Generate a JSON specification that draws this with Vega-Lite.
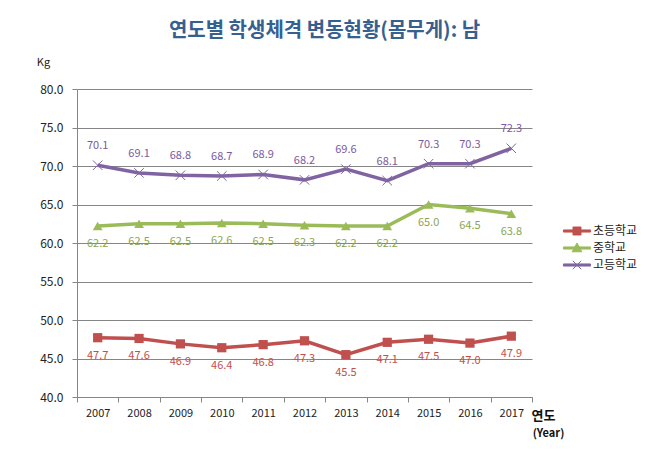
{
  "$schema": "https://vega.github.io/schema/vega-lite/v6.json",
  "width": 455,
  "height": 308,
  "autosize": {"type": "none"},
  "padding": {"left": 77, "top": 89, "right": 123, "bottom": 65},
  "background": "white",
  "title": {
    "text": "연도별 학생체격 변동현황(몸무게): 남",
    "font": "Noto Sans CJK KR",
    "fontSize": 20,
    "fontWeight": "bold",
    "color": "#35608F",
    "anchor": "middle",
    "frame": "group",
    "dx": 20,
    "offset": 15
  },
  "config": {"view": {"stroke": null}, "font": "Noto Sans CJK KR"},
  "data": {
    "values": [
      {"year": "2007", "school": "초등학교", "kg": 47.7},
      {"year": "2008", "school": "초등학교", "kg": 47.6},
      {"year": "2009", "school": "초등학교", "kg": 46.9},
      {"year": "2010", "school": "초등학교", "kg": 46.4},
      {"year": "2011", "school": "초등학교", "kg": 46.8},
      {"year": "2012", "school": "초등학교", "kg": 47.3},
      {"year": "2013", "school": "초등학교", "kg": 45.5},
      {"year": "2014", "school": "초등학교", "kg": 47.1},
      {"year": "2015", "school": "초등학교", "kg": 47.5},
      {"year": "2016", "school": "초등학교", "kg": 47.0},
      {"year": "2017", "school": "초등학교", "kg": 47.9},
      {"year": "2007", "school": "중학교", "kg": 62.2},
      {"year": "2008", "school": "중학교", "kg": 62.5},
      {"year": "2009", "school": "중학교", "kg": 62.5},
      {"year": "2010", "school": "중학교", "kg": 62.6},
      {"year": "2011", "school": "중학교", "kg": 62.5},
      {"year": "2012", "school": "중학교", "kg": 62.3},
      {"year": "2013", "school": "중학교", "kg": 62.2},
      {"year": "2014", "school": "중학교", "kg": 62.2},
      {"year": "2015", "school": "중학교", "kg": 65.0},
      {"year": "2016", "school": "중학교", "kg": 64.5},
      {"year": "2017", "school": "중학교", "kg": 63.8},
      {"year": "2007", "school": "고등학교", "kg": 70.1},
      {"year": "2008", "school": "고등학교", "kg": 69.1},
      {"year": "2009", "school": "고등학교", "kg": 68.8},
      {"year": "2010", "school": "고등학교", "kg": 68.7},
      {"year": "2011", "school": "고등학교", "kg": 68.9},
      {"year": "2012", "school": "고등학교", "kg": 68.2},
      {"year": "2013", "school": "고등학교", "kg": 69.6},
      {"year": "2014", "school": "고등학교", "kg": 68.1},
      {"year": "2015", "school": "고등학교", "kg": 70.3},
      {"year": "2016", "school": "고등학교", "kg": 70.3},
      {"year": "2017", "school": "고등학교", "kg": 72.3}
    ]
  },
  "encoding": {
    "y": {
      "field": "kg",
      "type": "quantitative",
      "scale": {"domain": [40, 80], "nice": false, "zero": false},
      "axis": {
        "values": [40, 45, 50, 55, 60, 65, 70, 75, 80],
        "format": ".1f",
        "title": "Kg",
        "titleAngle": 0,
        "titleX": -34,
        "titleY": -27,
        "titleAlign": "center",
        "titleBaseline": "middle",
        "titleFontWeight": "normal",
        "titleFontSize": 11,
        "titleColor": "#222222",
        "labelFontSize": 12,
        "labelColor": "#222222",
        "labelPadding": 9,
        "tickSize": 5,
        "tickColor": "#868686",
        "domainColor": "#868686",
        "grid": true,
        "gridColor": "#868686"
      }
    }
  },
  "resolve": {"axis": {"x": "independent"}},
  "layer": [
    {
      "mark": {"type": "line", "strokeWidth": 3.5},
      "encoding": {
        "x": {
          "field": "year",
          "type": "ordinal",
          "scale": {"type": "band", "paddingInner": 0, "paddingOuter": 0},
          "axis": {
            "orient": "bottom",
            "title": "연도",
            "titleX": 466,
            "titleY": 18,
            "titleAlign": "center",
            "titleBaseline": "middle",
            "titleFontSize": 13,
            "titleFontWeight": "bold",
            "titleColor": "#111111",
            "labelAngle": 0,
            "labelFontSize": 11,
            "labelColor": "#222222",
            "labelPadding": 5,
            "tickBand": "extent",
            "tickSize": 5,
            "tickColor": "#868686",
            "domainColor": "#868686",
            "grid": false
          }
        },
        "color": {
          "field": "school",
          "type": "nominal",
          "scale": {"domain": ["초등학교", "중학교", "고등학교"], "range": ["#C0504D", "#9BBB59", "#8064A2"]},
          "legend": {
            "title": null,
            "orient": "none",
            "legendX": 489,
            "legendY": 131,
            "symbolSize": 441,
            "rowPadding": 0,
            "labelOffset": 5,
            "labelFontSize": 12,
            "labelColor": "#222222",
            "encode": {
              "symbols": {
                "update": {
                  "shape": {"signal": "datum.value === '초등학교' ? 'M-1.29,-0.1H-0.38V-0.38H0.38V-0.1H1.29V0.1H0.38V0.38H-0.38V0.1H-1.29Z' : datum.value === '중학교' ? 'M-1.29,-0.1H1.29V0.1H-1.29Z M0,-0.48L0.46,0.36H-0.46Z' : 'M-1.29,-0.1H1.29V0.1H-1.29Z M-0.4,-0.4L0.4,0.4M-0.4,0.4L0.4,-0.4'"},
                  "fill": {"signal": "datum.value === '초등학교' ? '#C0504D' : datum.value === '중학교' ? '#9BBB59' : '#8064A2'"},
                  "stroke": {"signal": "datum.value === '초등학교' ? '#C0504D' : datum.value === '중학교' ? '#9BBB59' : '#8064A2'"},
                  "strokeWidth": {"value": 1},
                  "opacity": {"value": 1}
                }
              }
            }
          }
        }
      }
    },
    {
      "transform": [{"filter": "datum.school === '초등학교'"}],
      "mark": {"type": "point", "shape": "square", "filled": true, "size": 85, "opacity": 1, "color": "#C0504D"},
      "encoding": {
        "x": {
          "field": "year",
          "type": "ordinal",
          "scale": {"type": "band", "paddingInner": 0, "paddingOuter": 0},
          "axis": {
            "orient": "bottom",
            "title": "(Year)",
            "labels": false,
            "ticks": false,
            "domain": false,
            "grid": false,
            "titleX": 471,
            "titleY": 36,
            "titleAlign": "center",
            "titleBaseline": "middle",
            "titleFontSize": 11,
            "titleFontWeight": "bold",
            "titleColor": "#111111"
          }
        }
      }
    },
    {
      "transform": [{"filter": "datum.school === '중학교'"}],
      "mark": {"type": "point", "shape": "triangle-up", "filled": true, "size": 95, "opacity": 1, "color": "#9BBB59"},
      "encoding": {
        "x": {"field": "year", "type": "ordinal", "scale": {"type": "band", "paddingInner": 0, "paddingOuter": 0}, "axis": null}
      }
    },
    {
      "transform": [{"filter": "datum.school === '고등학교'"}],
      "mark": {"type": "point", "shape": "M-1,-1L1,1M-1,1L1,-1", "filled": false, "strokeWidth": 1, "size": 90, "opacity": 1, "color": "#8064A2"},
      "encoding": {
        "x": {"field": "year", "type": "ordinal", "scale": {"type": "band", "paddingInner": 0, "paddingOuter": 0}, "axis": null}
      }
    },
    {
      "transform": [{"filter": "datum.school === '고등학교'"}],
      "mark": {"type": "text", "dy": -19, "fontSize": 11, "color": "#7A5A9E"},
      "encoding": {
        "x": {"field": "year", "type": "ordinal", "scale": {"type": "band", "paddingInner": 0, "paddingOuter": 0}, "axis": null},
        "text": {"field": "kg", "type": "quantitative", "format": ".1f"}
      }
    },
    {
      "transform": [{"filter": "datum.school === '중학교'"}],
      "mark": {"type": "text", "dy": 18, "fontSize": 11, "color": "#8AA553"},
      "encoding": {
        "x": {"field": "year", "type": "ordinal", "scale": {"type": "band", "paddingInner": 0, "paddingOuter": 0}, "axis": null},
        "text": {"field": "kg", "type": "quantitative", "format": ".1f"}
      }
    },
    {
      "transform": [{"filter": "datum.school === '초등학교'"}],
      "mark": {"type": "text", "dy": 18, "fontSize": 11, "color": "#C0504D"},
      "encoding": {
        "x": {"field": "year", "type": "ordinal", "scale": {"type": "band", "paddingInner": 0, "paddingOuter": 0}, "axis": null},
        "text": {"field": "kg", "type": "quantitative", "format": ".1f"}
      }
    }
  ]
}
